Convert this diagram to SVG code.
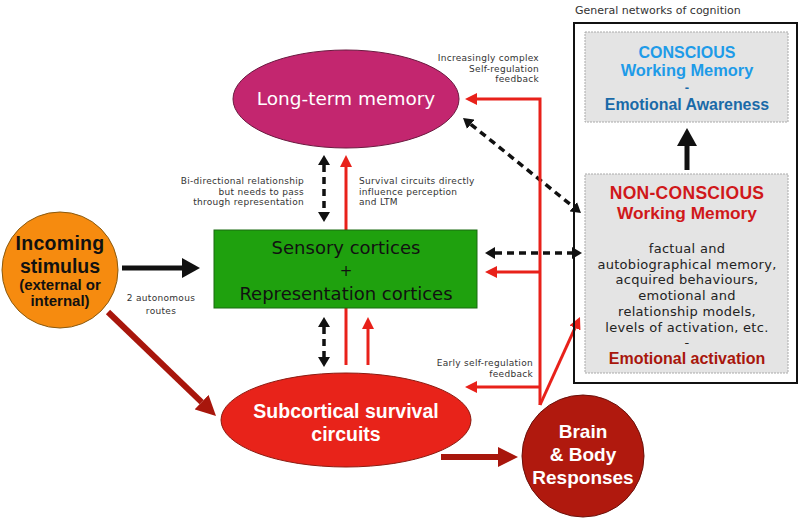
<svg xmlns="http://www.w3.org/2000/svg" width="800" height="527" viewBox="0 0 800 527">
<defs>
<marker id="mbs" markerUnits="userSpaceOnUse" markerWidth="10" markerHeight="12" refX="0" refY="6" orient="auto-start-reverse"><path d="M0,0 L10,6 L0,12 z" fill="#111"/></marker>
<marker id="mbl" markerUnits="userSpaceOnUse" markerWidth="18" markerHeight="20" refX="0" refY="10" orient="auto"><path d="M0,0 L18,10 L0,20 z" fill="#111"/></marker>
<marker id="mr" markerUnits="userSpaceOnUse" markerWidth="12" markerHeight="12" refX="0" refY="6" orient="auto"><path d="M0,0 L12,6 L0,12 z" fill="#e8211a"/></marker>
<marker id="mdr" markerUnits="userSpaceOnUse" markerWidth="20" markerHeight="20" refX="0" refY="10" orient="auto"><path d="M0,0 L20,10 L0,20 z" fill="#a8160c"/></marker>
</defs>
<style>
text{font-family:"DejaVu Sans","Liberation Sans",sans-serif}
.b{font-family:"Liberation Sans","Arimo",sans-serif;font-weight:bold}
.sm{font-size:9px;fill:#333;letter-spacing:0.3px}
.dash{stroke:#111;stroke-width:3.5;stroke-dasharray:7 5;fill:none;marker-start:url(#mbs);marker-end:url(#mbs)}
.red{stroke:#e8211a;stroke-width:3;fill:none}
.redA{stroke:#e8211a;stroke-width:3;fill:none;marker-end:url(#mr)}
.dred{stroke:#a8160c;stroke-width:6;fill:none;marker-end:url(#mdr)}
.blk{stroke:#111;stroke-width:5;fill:none;marker-end:url(#mbl)}
.wb{fill:#fff;text-anchor:middle}
</style>
<rect width="800" height="527" fill="#fff"/>

<g id="connectors">
<line class="red" x1="346" y1="365" x2="346" y2="230"/>
<line class="redA" x1="346" y1="230" x2="346" y2="167"/>
<line class="dash" x1="324" y1="165" x2="324" y2="212"/>
<line class="dash" x1="470.8" y1="124.3" x2="573.2" y2="206.7"/>
<line class="dash" x1="495" y1="253" x2="572" y2="253"/>
<path class="redA" d="M540,405 L540,99 L477,99"/>
<path class="redA" d="M540,272 L497,272"/>
<path class="redA" d="M540,387 L477,387"/>
<path class="redA" d="M540,405 L575,327.9"/>
<line class="redA" x1="368" y1="365" x2="368" y2="329"/>
<line class="dash" x1="324" y1="327" x2="324" y2="357"/>
<line class="blk" x1="122" y1="268" x2="182" y2="268"/>
<line class="dred" x1="108" y1="312" x2="201.6" y2="402.1"/>
<line class="dred" x1="441" y1="457" x2="498" y2="457"/>
<line class="blk" x1="687" y1="170" x2="687" y2="146"/>
</g>

<g id="labels">
<text class="sm" x="539" y="61" text-anchor="end">Increasingly complex</text>
<text class="sm" x="539" y="71.5" text-anchor="end">Self-regulation</text>
<text class="sm" x="539" y="82" text-anchor="end">feedback</text>
<text class="sm" x="304" y="184" text-anchor="end">Bi-directional relationship</text>
<text class="sm" x="304" y="194.5" text-anchor="end">but needs to pass</text>
<text class="sm" x="304" y="205" text-anchor="end">through representation</text>
<text class="sm" x="359" y="184">Survival circuits directly</text>
<text class="sm" x="359" y="194.5">influence perception</text>
<text class="sm" x="359" y="205">and LTM</text>
<text class="sm" x="161" y="301" text-anchor="middle">2 autonomous</text>
<text class="sm" x="161" y="314" text-anchor="middle">routes</text>
<text class="sm" x="533" y="366" text-anchor="end">Early self-regulation</text>
<text class="sm" x="533" y="376.5" text-anchor="end">feedback</text>
</g>

<g id="ltm">
<ellipse cx="346" cy="99" rx="113" ry="49" fill="#c3266f" stroke="#6a1a40" stroke-width="1"/>
<text x="346" y="105" fill="#fff" font-size="18.5" text-anchor="middle">Long-term memory</text>
</g>

<g id="sensory">
<rect x="214" y="230" width="263" height="78" fill="#1fa10e" stroke="#1a6a10" stroke-width="1"/>
<text x="346" y="254" font-size="18" fill="#111" text-anchor="middle">Sensory cortices</text>
<text x="346" y="276" font-size="15" fill="#111" text-anchor="middle">+</text>
<text x="346" y="300" font-size="18" fill="#111" text-anchor="middle">Representation cortices</text>
</g>

<g id="stimulus">
<circle cx="60" cy="270" r="58" fill="#f68b0f" stroke="#8a5a10" stroke-width="1"/>
<text class="b" x="60" y="250" font-size="19.5" fill="#111" text-anchor="middle" letter-spacing="0.3">Incoming</text>
<text class="b" x="60" y="273" font-size="19.5" fill="#111" text-anchor="middle">stimulus</text>
<text class="b" x="60" y="290" font-size="15" fill="#111" text-anchor="middle">(external or</text>
<text class="b" x="60" y="306" font-size="15" fill="#111" text-anchor="middle">internal)</text>
</g>

<g id="subcortical">
<ellipse cx="346" cy="420" rx="125" ry="47" fill="#e8231a" stroke="#8b1a10" stroke-width="1"/>
<text class="b wb" x="346" y="418" font-size="19.5">Subcortical survival</text>
<text class="b wb" x="346" y="441" font-size="19.5">circuits</text>
</g>

<g id="brain">
<circle cx="583" cy="456" r="61" fill="#b0190e" stroke="#6a100a" stroke-width="1"/>
<text class="b wb" x="583" y="438" font-size="19">Brain</text>
<text class="b wb" x="583" y="461" font-size="19">&amp; Body</text>
<text class="b wb" x="583" y="484" font-size="19">Responses</text>
</g>

<g id="cognition">
<text x="575" y="14" font-size="11" fill="#333">General networks of cognition</text>
<rect x="574" y="23" width="223" height="360" fill="none" stroke="#111" stroke-width="2"/>
</g>

<g id="conscious">
<rect x="585" y="32" width="203" height="90" fill="#e4e4e4" stroke="#aaa" stroke-width="1" stroke-dasharray="2 1"/>
<text class="b" x="687" y="58" font-size="16" fill="#1e9be8" text-anchor="middle">CONSCIOUS</text>
<text class="b" x="687" y="76" font-size="16.4" fill="#1e9be8" text-anchor="middle">Working Memory</text>
<text class="b" x="687" y="92" font-size="13" fill="#1a6aa8" text-anchor="middle">-</text>
<text class="b" x="687" y="110" font-size="15.9" fill="#1a6aa8" text-anchor="middle">Emotional Awareness</text>
</g>

<g id="nonconscious">
<rect x="585" y="174" width="203" height="199" fill="#e4e4e4" stroke="#aaa" stroke-width="1" stroke-dasharray="2 1"/>
<text class="b" x="687" y="199" font-size="17.5" fill="#d0181a" text-anchor="middle" letter-spacing="0.3">NON-CONSCIOUS</text>
<text class="b" x="687" y="218.5" font-size="17.3" fill="#d0181a" text-anchor="middle">Working Memory</text>
<g font-size="13" fill="#222" text-anchor="middle" letter-spacing="0.3">
<text x="687" y="253">factual and</text>
<text x="687" y="268.7">autobiographical memory,</text>
<text x="687" y="284.4">acquired behaviours,</text>
<text x="687" y="300.1">emotional and</text>
<text x="687" y="315.8">relationship models,</text>
<text x="687" y="331.5">levels of activation, etc.</text>
<text x="687" y="347">-</text>
</g>
<text class="b" x="687" y="364" font-size="16" fill="#a8160c" text-anchor="middle">Emotional activation</text>
</g>
</svg>
